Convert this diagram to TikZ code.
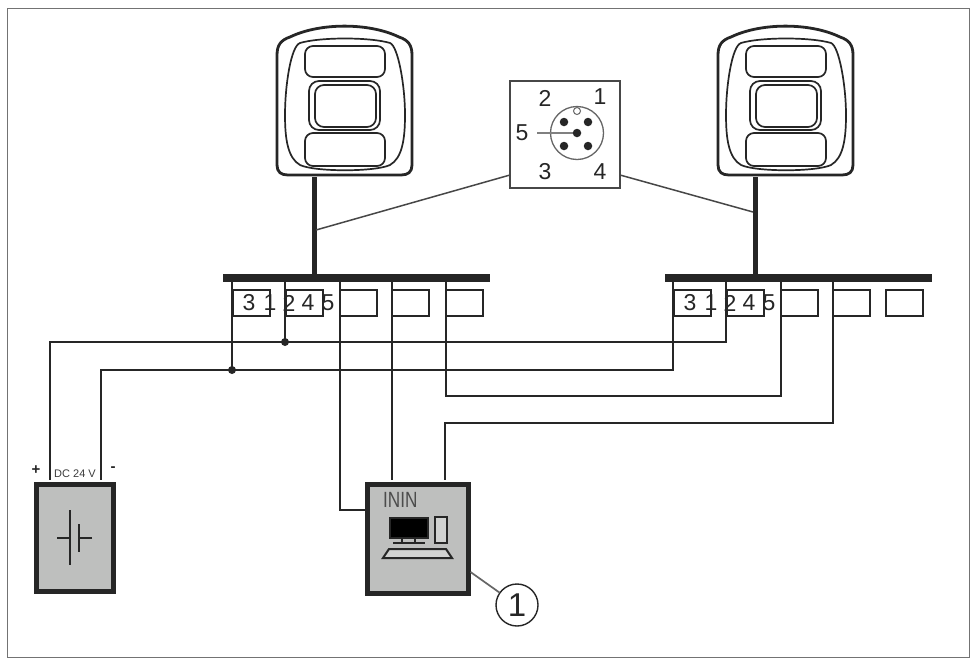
\documentclass[tikz,border=0pt]{standalone}
\usepackage{fontspec}
\setmainfont{Liberation Sans}
\newfontfamily\narrowface[FakeStretch=0.78]{Liberation Sans}
\definecolor{inkc}{HTML}{262626}
\definecolor{boxgray}{HTML}{BEBFBE}
\tikzset{
  x=1pt,y=-1pt,
  wire/.style={draw=inkc,line width=2pt},
  dot/.style={circle,fill=inkc,inner sep=0pt,minimum size=8pt},
  busbar/.style={fill=inkc,draw=none,inner sep=0pt,minimum width=267pt,minimum height=8pt},
  term/.style={draw=inkc,line width=2pt,fill=white,inner sep=0pt,minimum width=37pt,minimum height=26pt},
  device/.style={draw=inkc,line width=5pt,fill=boxgray,inner sep=0pt},
  num/.style={inner sep=0pt,text=inkc,font=\fontsize{23}{23}\selectfont},
  stem/.style={draw=inkc,line width=5pt},
  thinline/.style={draw=inkc!85,line width=1.5pt},
  sensorline/.style={draw=inkc,line width=1.7pt,rounded corners=8pt},
  pin/.style={circle,fill=inkc,inner sep=0pt,minimum size=8.5pt},
}
\begin{document}
\begin{tikzpicture}
\useasboundingbox (0,0) rectangle (973,659);
\fill[white] (0,0) rectangle (973,659);
\draw[draw=black!55,line width=1pt] (7,8) rectangle (969,657);

% sensors
\foreach \dx/\nm in {0/a,441/b}{
\begin{scope}[xshift=\dx pt]
  \draw[draw=inkc,line width=2.8pt,fill=white] (277,55) .. controls (277,45) and (281,40) .. (290,37)
     .. controls (320,22.5) and (369,22.5) .. (399,37)
     .. controls (408,40) and (412,45) .. (412,55) -- (412,165)
     .. controls (412,172) and (408,175) .. (401,175) -- (288,175)
     .. controls (281,175) and (277,172) .. (277,165) -- cycle;
  \draw[draw=inkc,line width=1.7pt] (300,43) .. controls (320,37) and (370,37) .. (390,43)
     .. controls (398,46) and (405,85) .. (405,115)
     .. controls (405,140) and (402,158) .. (390,165)
     .. controls (375,172) and (315,172) .. (300,165)
     .. controls (288,158) and (285,140) .. (285,115)
     .. controls (285,85) and (291,46) .. (300,43) -- cycle;
  \draw[sensorline] (305,46) rectangle (385,77);
  \draw[sensorline] (305,133) rectangle (385,166);
  \draw[sensorline,rounded corners=10pt] (309,81) rectangle (380,130);
  \draw[sensorline,rounded corners=9pt] (315,85) rectangle (376,127);
\end{scope}}

% buses and terminals
\node[busbar] (busL) at (356.5,278) {};
\node[busbar] (busR) at (798,278) {};
\coordinate (sensorL) at (314,177);
\coordinate (sensorR) at (755,177);
\draw[stem] (sensorL) -- (sensorL |- busL.north);
\draw[stem] (sensorR) -- (sensorR |- busR.north);

\foreach \n/\cx in {L1/251,L2/304,L3/358,L4/410.5,L5/464.5,R1/692,R2/745,R3/799,R4/851.5,R5/904.5}
  \node[term] (t\n) at (\cx,303) {};

% device boxes
\node[device,minimum width=77pt,minimum height=107pt] (psu) at (74.5,538) {};
\node[device,minimum width=101pt,minimum height=109pt] (pc) at (417.5,538.5) {};

% power wires
\coordinate (plus) at (50,479.5);
\coordinate (minus) at (101,479.5);
\coordinate (dotA) at (285,342);
\coordinate (dotB) at (232,370);
\draw[wire] (plus) -- (50,342) -- (726,342) -- (726,282);
\draw[wire] (minus) -- (101,370) -- (673,370) -- (673,282);
\draw[wire] (232,282) -- (dotB);
\draw[wire] (285,282) -- (dotA);
\node[dot] at (dotA) {};
\node[dot] at (dotB) {};
% signal wires
\draw[wire] (340,282) -- (340,510) -- (pc.west |- 0,510);
\draw[wire] (392,282) -- (392,479.5);
\draw[wire] (446,282) -- (446,396) -- (781,396) -- (781,282);
\draw[wire] (833,282) -- (833,423) -- (445,423) -- (445,479.5);

% terminal numbers
\foreach \dx in {0,441}{
\begin{scope}[xshift=\dx pt]
  \node[num] at (249,303) {3};
  \node[num] at (270,303) {1};
  \node[num] at (289,303) {2};
  \node[num] at (308,303) {4};
  \node[num] at (328,303) {5};
\end{scope}}

% connector diagram
\node[draw=inkc!85,line width=1.6pt,fill=white,minimum width=110pt,minimum height=107pt,inner sep=0pt] (conn) at (565,134.5) {};
\coordinate (jL) at (316,230);
\coordinate (jR) at (753,212);
\draw[thinline] (510,175) -- (jL);
\draw[thinline] (620,175) -- (jR);
\draw[draw=black!60,line width=1.3pt] (577,133) circle[radius=26.5];
\draw[draw=black!60,line width=1pt,fill=white] (577,111) circle[radius=3.5];
\draw[draw=black!50,line width=1.3pt] (537,133) -- (577,133);
\foreach \px/\py in {564/122,588/122,577/133,564/146,588/146}
  \node[pin] at (\px,\py) {};
\node[num] at (545,98) {2};
\node[num] at (600,97) {1};
\node[num] at (522,133) {5};
\node[num] at (545,172) {3};
\node[num] at (600,172) {4};

% power supply
\node[inner sep=0pt,text=inkc!90,font=\fontsize{11}{11}\selectfont] (dc) at (75,473.5) {DC 24 V};
\node[inner sep=0pt,text=inkc,font=\bfseries\fontsize{15}{15}\selectfont] (pl) at (36,470) {+};
\node[inner sep=0pt,text=inkc,font=\bfseries\fontsize{15}{15}\selectfont] (mi) at (113,469) {-};
\draw[draw=inkc,line width=2pt] (57,538) -- (70,538) (70,510) -- (70,565);
\draw[draw=inkc,line width=2pt] (92,538) -- (79,538) (79,524) -- (79,552);

% computer
\node[inner sep=0pt,anchor=west,text=black!70,font=\narrowface\fontsize{22}{22}\selectfont] (inin) at (383,500) {ININ};
\draw[draw=inkc,line width=1.3pt,fill=black] (390,518) rectangle (428,538);
\draw[draw=inkc,line width=1.8pt] (402,538) -- (402,542) (415,538) -- (415,542) (393,543) -- (425,543);
\draw[draw=inkc,line width=2pt,fill=boxgray!70!white] (435,517) rectangle (447,543);
\draw[draw=inkc,line width=2pt,fill=boxgray!70!white] (383,558) -- (389,549) -- (446,549) -- (452,558) -- cycle;

% callout
\node[circle,draw=inkc,line width=1.4pt,fill=white,minimum size=42pt,inner sep=0pt,font=\fontsize{33}{33}\selectfont,text=inkc] (call) at (517,605) {1};
\draw[draw=black!60,line width=1.7pt] (pc.east |- 0,572) -- (call);
\end{tikzpicture}
\end{document}
